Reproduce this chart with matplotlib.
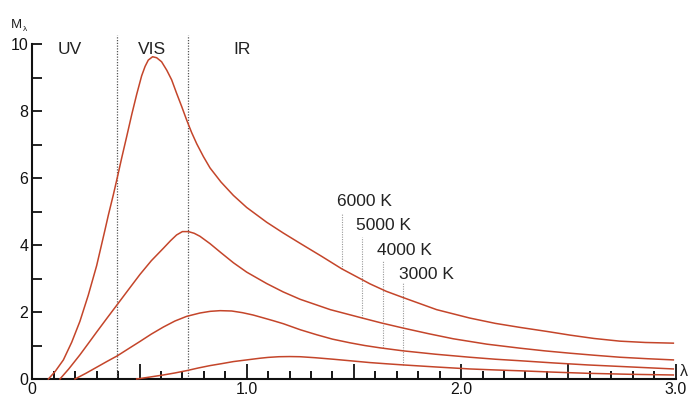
import numpy as np
from matplotlib import pyplot as plt
from matplotlib.ticker import MultipleLocator, FuncFormatter

plt.rcParams['font.family'] = ['Liberation Sans', 'DejaVu Sans']

# values (wavelength, M_lambda)
x_6000 = [0.075, 0.106, 0.145, 0.184, 0.222, 0.261, 0.30, 0.339, 0.355, 0.378, 0.396, 0.417,
          0.44, 0.464, 0.487, 0.51, 0.526, 0.541, 0.561, 0.58, 0.603, 0.627, 0.65, 0.673,
          0.697, 0.72, 0.743, 0.767, 0.798, 0.829, 0.88, 0.938, 1.0, 1.093, 1.17, 1.249,
          1.35, 1.443, 1.575, 1.65, 1.73, 1.886, 2.04, 2.16, 2.275, 2.40, 2.508, 2.62,
          2.74, 2.86, 2.99]
y_6000 = [0.0, 0.22, 0.57, 1.10, 1.72, 2.50, 3.38, 4.45, 4.90, 5.50, 6.00, 6.60,
          7.23, 7.90, 8.50, 9.05, 9.33, 9.52, 9.62, 9.59, 9.47, 9.22, 8.93, 8.53,
          8.13, 7.73, 7.36, 7.02, 6.64, 6.30, 5.88, 5.48, 5.12, 4.68, 4.36, 4.05,
          3.66, 3.29, 2.84, 2.62, 2.43, 2.07, 1.82, 1.66, 1.54, 1.42, 1.31, 1.21,
          1.13, 1.09, 1.07]

x_5000 = [0.129, 0.17, 0.222, 0.26, 0.30, 0.35, 0.396, 0.45, 0.502, 0.555, 0.611, 0.645,
          0.673, 0.70, 0.728, 0.755, 0.782, 0.829, 0.88, 0.938, 1.0, 1.093, 1.17, 1.249,
          1.39, 1.539, 1.63, 1.73, 1.85, 1.964, 2.12, 2.275, 2.39, 2.508, 2.62, 2.74,
          2.87, 2.99]
y_5000 = [0.0, 0.30, 0.72, 1.05, 1.40, 1.83, 2.22, 2.68, 3.12, 3.53, 3.90, 4.13,
          4.30, 4.40, 4.40, 4.35, 4.26, 4.04, 3.77, 3.47, 3.19, 2.85, 2.60, 2.38,
          2.07, 1.82, 1.67, 1.52, 1.35, 1.20, 1.04, 0.92, 0.84, 0.77, 0.71, 0.65,
          0.605, 0.57]

x_4000 = [0.199, 0.25, 0.30, 0.35, 0.396, 0.45, 0.502, 0.555, 0.611, 0.665, 0.72, 0.782,
          0.83, 0.876, 0.93, 0.98, 1.03, 1.08, 1.124, 1.171, 1.25, 1.327, 1.40, 1.482,
          1.55, 1.622, 1.73, 1.88, 2.04, 2.16, 2.275, 2.43, 2.59, 2.79, 2.99]
y_4000 = [0.0, 0.17, 0.35, 0.53, 0.69, 0.91, 1.12, 1.34, 1.55, 1.73, 1.87, 1.97,
          2.02, 2.04, 2.03, 1.98, 1.91, 1.82, 1.74, 1.65, 1.47, 1.32, 1.19, 1.08,
          1.00, 0.93, 0.84, 0.74, 0.65, 0.59, 0.545, 0.48, 0.42, 0.36, 0.30]

x_3000 = [0.487, 0.55, 0.611, 0.665, 0.72, 0.775, 0.829, 0.885, 0.938, 1.0, 1.062, 1.10,
          1.15, 1.20, 1.249, 1.32, 1.404, 1.49, 1.575, 1.65, 1.73, 1.88, 2.04, 2.16,
          2.275, 2.43, 2.59, 2.79, 2.99]
y_3000 = [0.0, 0.06, 0.12, 0.18, 0.25, 0.33, 0.40, 0.46, 0.52, 0.57, 0.62, 0.645,
          0.665, 0.67, 0.665, 0.635, 0.59, 0.54, 0.49, 0.455, 0.42, 0.36, 0.30, 0.27,
          0.245, 0.205, 0.17, 0.14, 0.12]

series_x = [x_6000, x_5000, x_4000, x_3000]
series_y = [y_6000, y_5000, y_4000, y_3000]
temp_labels = ["6000 K", "5000 K", "4000 K", "3000 K"]
label_x = [1.421, 1.51, 1.608, 1.71]
label_y = [5.29, 4.58, 3.85, 3.13]
leader_x = [1.443, 1.536, 1.637, 1.73]
leader_top = [4.96, 4.24, 3.55, 2.87]

band_edges = [0.396, 0.728]
band_names = ["UV", "VIS", "IR"]
band_x = [0.176, 0.557, 0.977]

curve_color = "#c4452a"

fig = plt.figure(figsize=(6.9, 3.96), dpi=100)
ax = fig.add_axes([32.3 / 690, 17 / 396, 643.2 / 690, 335 / 396])

for xs, ys in zip(series_x, series_y):
    ax.plot(xs, ys, color=curve_color, lw=1.1, clip_on=False, zorder=3,
            solid_joinstyle="round")

# region borders
for xe in band_edges:
    ax.plot([xe, xe], [0, 10.27], color="#555555", lw=0.9, ls=(0, (1, 1.2)), clip_on=False, zorder=2)
for name, bx in zip(band_names, band_x):
    ax.text(bx, 9.85, name, ha="center", va="center", fontsize=12.5, color="#222222")

# temperature labels with dotted leaders down to the curves
for i in range(4):
    bottom = np.interp(leader_x[i], series_x[i], series_y[i])
    ax.plot([leader_x[i], leader_x[i]], [bottom, leader_top[i]], color="#999999", lw=0.8,
            ls=(0, (1, 1.2)), zorder=2)
    ax.text(label_x[i], label_y[i], temp_labels[i], ha="left", va="center", fontsize=12.5,
            color="#222222")

ax.set_xlim(0, 3)
ax.set_ylim(0, 10)
for s in ["top", "right"]:
    ax.spines[s].set_visible(False)
for s in ["left", "bottom"]:
    ax.spines[s].set_linewidth(1.5)
    ax.spines[s].set_color("#111111")

ax.xaxis.set_major_locator(MultipleLocator(0.5))
ax.xaxis.set_minor_locator(MultipleLocator(0.1))
ax.xaxis.set_major_formatter(FuncFormatter(
    lambda v, p: ("0" if abs(v) < 1e-9 else "%.1f" % v) if abs(v - round(v)) < 1e-9 else ""))
ax.yaxis.set_major_locator(MultipleLocator(2))
ax.yaxis.set_minor_locator(MultipleLocator(1))
ax.yaxis.set_major_formatter(FuncFormatter(lambda v, p: "%d" % v))

ax.tick_params(axis="x", which="major", direction="in", length=11, width=1.3, pad=2,
               labelsize=11.5, colors="#111111")
ax.tick_params(axis="x", which="minor", direction="in", length=5.5, width=1.3)
ax.tick_params(axis="y", which="both", direction="in", length=7, width=1.3, pad=3,
               labelsize=11.5, colors="#111111")

# axis names
fig.text(10.7 / 690, 1 - 28 / 396, "M", fontsize=9.5, color="#222222", ha="left", va="baseline")
fig.text(22.5 / 690, 1 - 31 / 396, "λ", fontsize=6, color="#222222", ha="left", va="baseline")
fig.text(680 / 690, 1 - 372 / 396, "λ", fontsize=11.5, color="#222222", ha="left", va="center")

plt.savefig("out.png", dpi=100)
plt.close()
